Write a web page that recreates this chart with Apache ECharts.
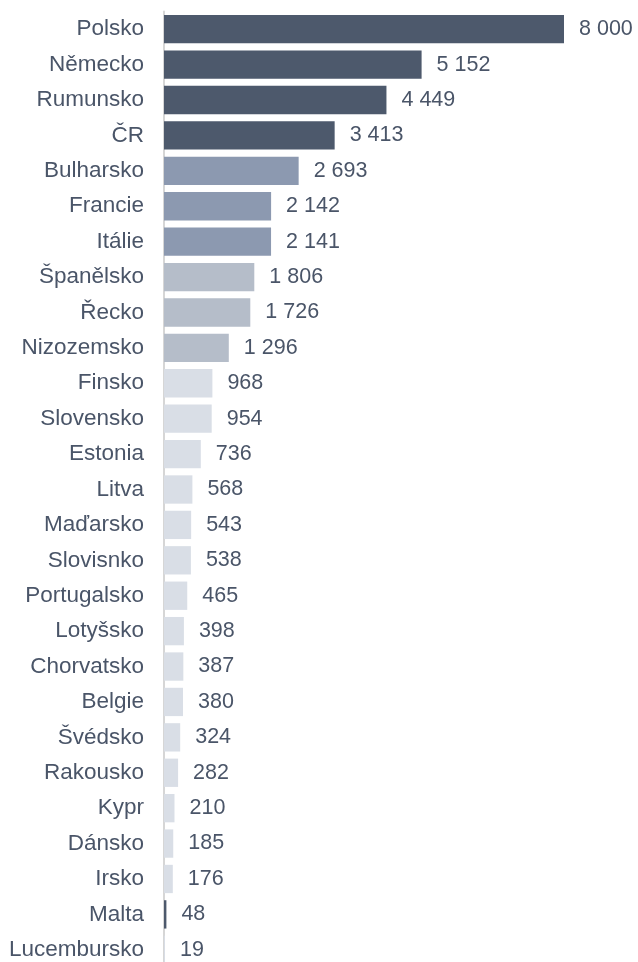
<!DOCTYPE html>
<html><head><meta charset="utf-8">
<script src="https://cdn.jsdelivr.net/npm/echarts@6/dist/echarts.min.js"></script>
<style>html,body{margin:0;padding:0;background:#fff}#c{width:638px;height:962px}</style>
</head><body><div id="c"></div>
<script>
const categories = ["Polsko","Německo","Rumunsko","ČR","Bulharsko","Francie","Itálie","Španělsko","Řecko","Nizozemsko","Finsko","Slovensko","Estonia","Litva","Maďarsko","Slovisnko","Portugalsko","Lotyšsko","Chorvatsko","Belgie","Švédsko","Rakousko","Kypr","Dánsko","Irsko","Malta","Lucembursko"];
const values = [8000,5152,4449,3413,2693,2142,2141,1806,1726,1296,968,954,736,568,543,538,465,398,387,380,324,282,210,185,176,48,19];
const groups = [0,0,0,0,1,1,1,2,2,2,3,3,3,3,3,3,3,3,3,3,3,3,3,3,3,0,3];
const palette = ["#4d596c","#8c99b0","#b5bdc9","#d9dee6"];
const chart = echarts.init(document.getElementById('c'));
chart.setOption({
  animation:false,
  grid:{left:164,width:400,top:11.5,height:956,containLabel:false,outerBoundsMode:'none'},
  xAxis:{type:'value',min:0,max:8000,show:false},
  yAxis:{type:'category',data:categories,inverse:true,
    axisLine:{lineStyle:{color:'#d6d6d6',width:2}},
    axisTick:{show:false},
    axisLabel:{color:'#4a5568',fontSize:22.5,fontFamily:'Liberation Sans, Arial, sans-serif',margin:20}},
  series:[{type:'bar',barCategoryGap:'20%',
    data:values.map((v,i)=>({value:v,itemStyle:{color:palette[groups[i]]}})),
    label:{show:true,position:'right',distance:15,color:'#4a5568',fontSize:21.5,fontFamily:'Liberation Sans, Arial, sans-serif',
      formatter:p=>String(p.value).replace(/\B(?=(\d{3})+(?!\d))/g,' ')}}]
});
</script></body></html>
